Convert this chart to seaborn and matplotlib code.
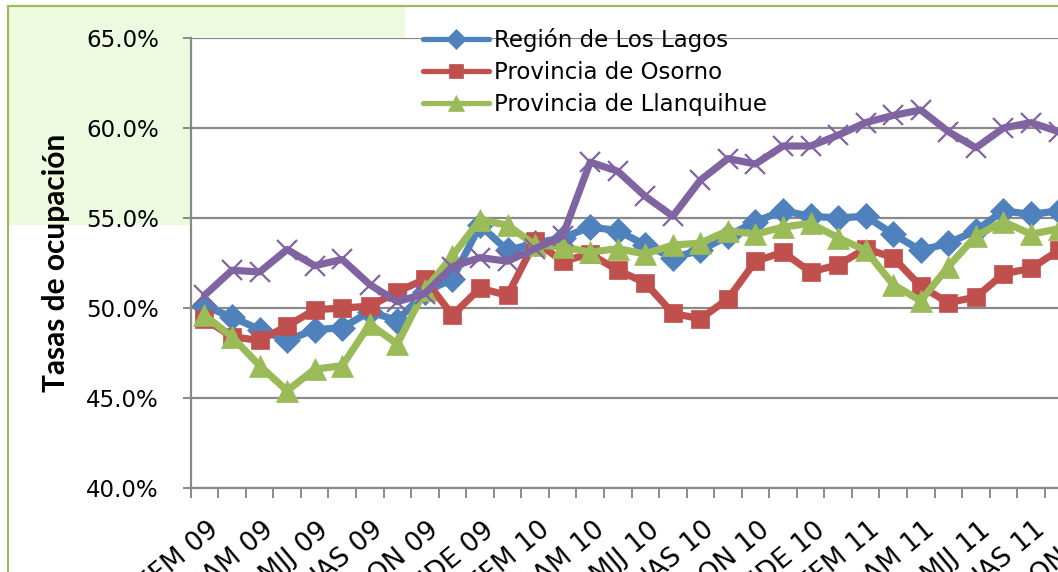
import matplotlib
matplotlib.use("Agg")
import matplotlib.pyplot as plt
import matplotlib.transforms as mtransforms
from matplotlib.lines import Line2D
from matplotlib.patches import Rectangle
import seaborn as sns
import numpy as np

# ---------------- data ----------------
categories = [
    "EFM 09", "FMA 09", "MAM 09", "AMJ 09", "MJJ 09", "JJA 09", "JAS 09", "ASO 09",
    "SON 09", "OND 09", "NDE 09", "DEF 10", "EFM 10", "FMA 10", "MAM 10", "AMJ 10",
    "MJJ 10", "JJA 10", "JAS 10", "ASO 10", "SON 10", "OND 10", "NDE 10", "DEF 11",
    "EFM 11", "FMA 11", "MAM 11", "AMJ 11", "MJJ 11", "JJA 11", "JAS 11", "ASO 11",
    "SON 11",
]
region_los_lagos = [50.1, 49.5, 48.8, 48.2, 48.8, 48.9, 49.8, 49.3, 50.9, 51.6, 54.6, 53.2,
                    53.6, 53.9, 54.5, 54.3, 53.5, 52.8, 53.2, 54.0, 54.8, 55.4, 55.1, 55.0,
                    55.1, 54.1, 53.2, 53.6, 54.3, 55.4, 55.2, 55.4]
provincia_osorno = [49.4, 48.4, 48.2, 49.0, 49.9, 50.0, 50.1, 50.9, 51.6, 49.6, 51.1, 50.7,
                    53.7, 52.6, 53.0, 52.1, 51.4, 49.7, 49.4, 50.5, 52.6, 53.1, 52.0, 52.4,
                    53.3, 52.8, 51.2, 50.3, 50.6, 51.9, 52.2, 53.2]
provincia_llanquihue = [49.6, 48.4, 46.8, 45.4, 46.6, 46.8, 49.1, 48.0, 51.0, 52.9, 54.9, 54.6,
                        53.5, 53.4, 53.1, 53.3, 53.0, 53.5, 53.6, 54.3, 54.1, 54.5, 54.7, 53.9,
                        53.2, 51.3, 50.4, 52.3, 54.0, 54.8, 54.1, 54.4]
provincia_chiloe = [50.7, 52.1, 52.0, 53.25, 52.35, 52.7, 51.3, 50.35, 50.8, 52.3, 52.8, 52.6,
                    53.3, 54.0, 58.1, 57.6, 56.2, 55.1, 57.1, 58.3, 58.0, 59.0, 59.0, 59.6,
                    60.3, 60.7, 61.0, 59.8, 58.9, 60.0, 60.3, 59.8]
series_names = ["Región de Los Lagos", "Provincia de Osorno", "Provincia de Llanquihue",
                "Provincia de Chiloé"]
y_ticks = [40, 45, 50, 55, 60, 65]

# ---------------- style ----------------
W, H = 1058, 572
sns.set_theme(style="white")
plt.rcParams["font.family"] = ["DejaVu Sans"]

fig = plt.figure(figsize=(W / 100, H / 100), dpi=100)
fig.patch.set_facecolor("white")

# light green highlight behind the top-left of the chart
fig.patches.append(Rectangle((8 / W, 1 - 225 / H), (405 - 8) / W, (225 - 6) / H,
                             transform=fig.transFigure, facecolor="#EEFADF",
                             edgecolor="none", zorder=-5))
# chart border (top and left)
fig.add_artist(Line2D([8 / W, 1.0], [1 - 6 / H, 1 - 6 / H], transform=fig.transFigure,
                      color="#9BBB59", lw=1.6, zorder=-4))
fig.add_artist(Line2D([8 / W, 8 / W], [0, 1 - 6 / H], transform=fig.transFigure,
                      color="#9BBB59", lw=1.6, zorder=-4))

step = 27.55
x0 = 190.7
ncat = len(categories)
ax = fig.add_axes([x0 / W, (H - 488) / H, step * ncat / W, 450 / H])
ax.set_facecolor("white")
ax.set_zorder(1)

colors = ["#4F81BD", "#C0504D", "#9BBB59", "#8064A2"]
markers = ["D", "s", "^", "x"]
msizes = [13, 13.5, 16, 15]
all_series = [region_los_lagos, provincia_osorno, provincia_llanquihue, provincia_chiloe]

for vals, name, c, m, ms in zip(all_series, series_names, colors, markers, msizes):
    xs = np.arange(len(vals))
    kw = dict(marker=m, markersize=ms, color=c, linewidth=5.2,
              markeredgecolor=c, markerfacecolor=c)
    if m == "x":
        kw["markeredgewidth"] = 1.6
    else:
        kw["markeredgewidth"] = 0.5
    sns.lineplot(x=xs, y=vals, ax=ax, label=name, legend=False, sort=False,
                 solid_joinstyle="round", solid_capstyle="round", **kw)

ax.set_xlim(-0.5, ncat - 0.5)
ax.set_ylim(40, 65)

# y axis
ax.set_yticks(y_ticks)
ax.set_yticklabels([f"{v:.1f}%" for v in y_ticks], fontsize=16.5, color="black")
ax.yaxis.grid(True, color="#898989", linewidth=1.6)
ax.xaxis.grid(False)
ax.tick_params(axis="y", which="major", length=6, width=1.4, color="#898989",
               direction="out", pad=17, left=True)

# x axis: tick marks at category boundaries, labels every second category
ax.set_xticks(np.arange(-0.5, ncat, 1.0))
ax.set_xticklabels([])
ax.tick_params(axis="x", which="major", length=7, width=1.4, color="#898989",
               direction="out", bottom=True)
ax.set_xticks(np.arange(0, ncat, 2), minor=True)
ax.set_xticklabels(categories[::2], minor=True, rotation=40, ha="right", va="center",
                   rotation_mode="anchor", fontsize=19, color="black")
ax.tick_params(axis="x", which="minor", length=0, pad=28)
shift = mtransforms.ScaledTranslation(11 / 100, 0, fig.dpi_scale_trans)
for lab in ax.get_xticklabels(minor=True):
    lab.set_transform(lab.get_transform() + shift)

for s in ["top", "right"]:
    ax.spines[s].set_visible(False)
for s in ["left", "bottom"]:
    ax.spines[s].set_color("#898989")
    ax.spines[s].set_linewidth(1.6)

ax.set_ylabel("")
ax.set_xlabel("")

fig.text(56 / W, 1 - 263 / H, "Tasas de ocupación", rotation=90, ha="center",
         va="center", fontsize=21.5, fontweight="bold", family="Lato", color="black")

# legend (first three series only)
handles = [Line2D([], [], color=c, marker=m, markersize=ms, linewidth=3.8,
                  markeredgecolor=c, markeredgewidth=0.5)
           for c, m, ms in zip(colors[:3], markers[:3], [10, 10, 11])]
leg = ax.legend(handles, series_names[:3], loc="upper left",
                bbox_to_anchor=(423 / W, 1 - 28 / H), bbox_transform=fig.transFigure,
                frameon=False, fontsize=16.5, handlelength=2.9, handletextpad=0.2,
                labelspacing=0.4, borderpad=0, borderaxespad=0)
for t in leg.get_texts():
    t.set_color("black")

fig.savefig("out.png", dpi=100)
